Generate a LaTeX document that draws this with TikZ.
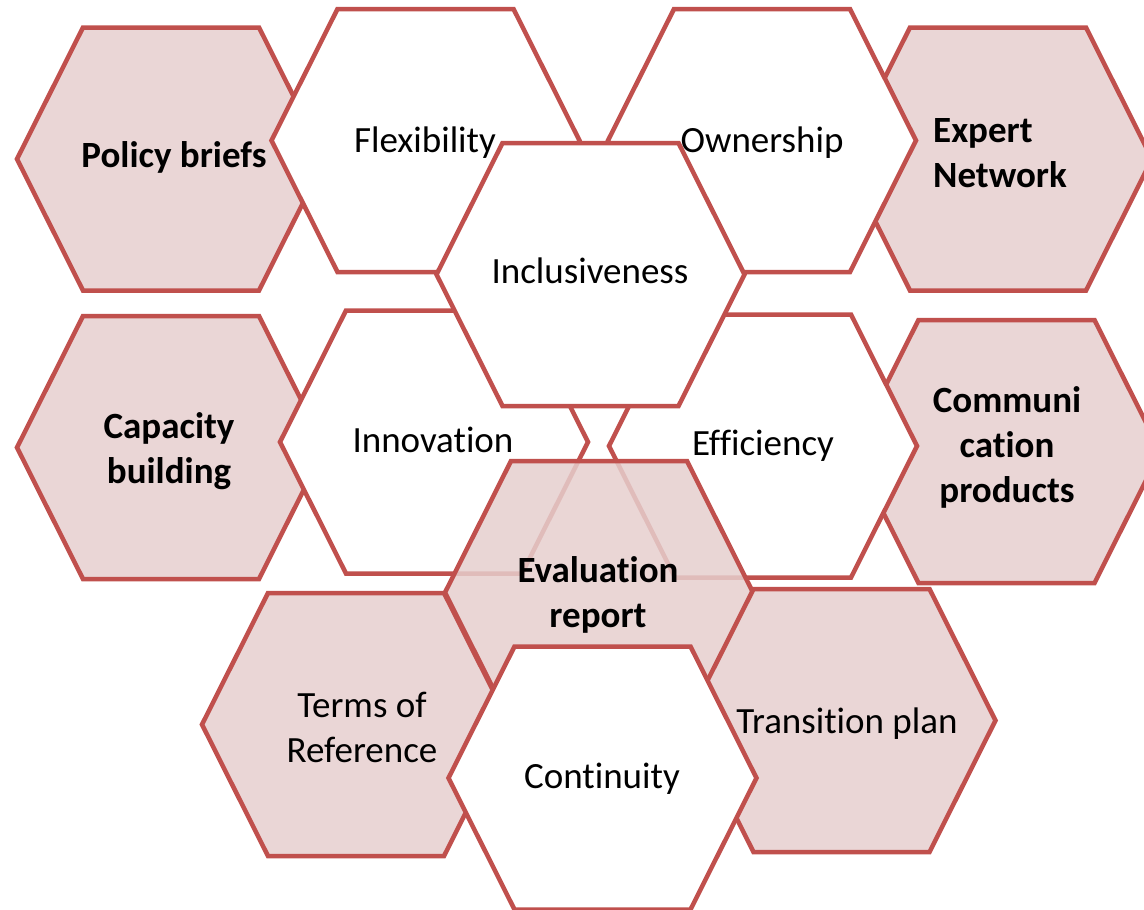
\documentclass[tikz,border=0pt]{standalone}
\usepackage{fontspec}
\setmainfont[Ligatures={NoCommon,NoContextual}]{Carlito}
\definecolor{hexline}{RGB}{192,80,77}
\definecolor{hexpink}{RGB}{234,214,214}
\definecolor{hexpinkT}{RGB}{230,207,206}
\newcommand{\hexat}[3]{\path[#1] (#2,#3) ++(-154,0) -- ++(66,-131.5) -- ++(176,0) -- ++(66,131.5) -- ++(-66,131.5) -- ++(-176,0) -- cycle;}
\begin{document}
\begin{tikzpicture}[x=1pt,y=-1pt,
  whitehex/.style={draw=hexline, line width=4.5pt, fill=white},
  pinkhex/.style={draw=hexline, line width=4.5pt, fill=hexpink},
  evalhex/.style={draw=hexline, line width=4.5pt, fill=hexpinkT, fill opacity=0.85},
  lbl/.style={font=\fontsize{37}{45}\selectfont, inner sep=0pt, text=black},
  blbl/.style={inner sep=0pt, text=black, font=\fontsize{37}{45}\selectfont\bfseries}]
\useasboundingbox (0,0) rectangle (1144,910);
\clip (0,0) rectangle (1144,910);
% bottom layer
\hexat{pinkhex}{171}{159}
\hexat{pinkhex}{998}{159}
\hexat{pinkhex}{171}{447.5}
\hexat{pinkhex}{1006.5}{451.5}
\hexat{whitehex}{425.5}{140.5}
\hexat{whitehex}{762}{140.5}
\hexat{whitehex}{434}{442}
\hexat{whitehex}{763}{446}
\hexat{whitehex}{590.5}{274.5}
\hexat{evalhex}{599}{592.5}
\hexat{pinkhex}{356}{724.5}
\hexat{pinkhex}{841.5}{720.5}
\hexat{whitehex}{602.5}{778}
% labels (multi-line nodes: base = last line's baseline)
\node[blbl, anchor=base] (policy) at (174,167) {Policy briefs};
\node[lbl, anchor=base] (flex) at (425,152) {Flexibility};
\node[lbl, anchor=base] (own) at (762,152) {Ownership};
\node[blbl, anchor=base west, align=left] (expert) at (933,187) {Expert\\Network};
\node[lbl, anchor=base] (incl) at (590,283) {Inclusiveness};
\node[blbl, anchor=base, align=center] (capacity) at (169,483) {Capacity\\building};
\node[lbl, anchor=base] (innov) at (433,452) {Innovation};
\node[lbl, anchor=base] (effic) at (763,455) {Efficiency};
\node[blbl, anchor=base, align=center] (comm) at (1007,502) {Communi\\cation\\products};
\node[blbl, anchor=base, align=center] (evalr) at (598,627) {Evaluation\\report};
\node[lbl, anchor=base, align=center] (terms) at (362,762) {Terms of\\Reference};
\node[lbl, anchor=base] (trans) at (847,733) {Transition plan};
\node[lbl, anchor=base] (cont) at (602,788) {Continuity};
\end{tikzpicture}
\end{document}
